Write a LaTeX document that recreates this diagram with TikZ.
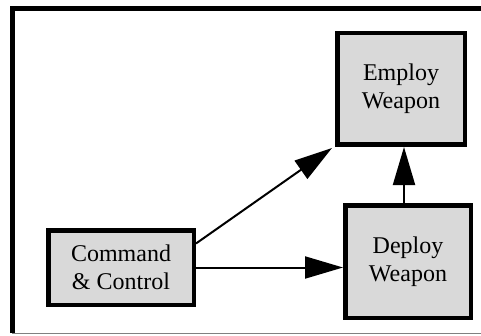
\documentclass[tikz,border=0pt]{standalone}
\usepackage{fontspec}
\setmainfont{Liberation Serif}
\usetikzlibrary{arrows.meta,calc}
\tikzset{
  boxnode/.style={draw=black, line width=4.5pt, fill=boxgray, inner sep=0pt, align=center,
    font=\fontsize{24pt}{28pt}\selectfont},
  arr/.style={line width=2pt, -{Triangle[length=38pt,width=22pt]}},
}
\definecolor{boxgray}{HTML}{D9D9D9}
\begin{document}
\begin{tikzpicture}[x=1pt,y=1pt]
\useasboundingbox (0,0) rectangle (481,335);
% frame
\draw[line width=5pt] (12,2) -- (12,326) -- (490,326);
\draw[line width=1.5pt, color=gray] (12,1.5) -- (490,1.5);
% nodes
\node[boxnode, minimum width=145.5pt, minimum height=74.5pt] (cc) at (121,67.5) {Command\\\& Control};
\node[boxnode, minimum width=127.5pt, minimum height=111.5pt] (employ) at (401,246) {Employ\\Weapon};
\node[boxnode, minimum width=125.5pt, minimum height=112.5pt] (deploy) at (408,73.5) {Deploy\\Weapon};
% connectors
\draw[arr] (cc.east) -- (cc.east -| deploy.west);
\draw[arr] ([yshift=24pt]cc.east) -- ([xshift=-3pt,yshift=-1pt]employ.south west);
\draw[arr] ([xshift=-4pt]deploy.north) -- ([xshift=3pt]employ.south);
\end{tikzpicture}
\end{document}
